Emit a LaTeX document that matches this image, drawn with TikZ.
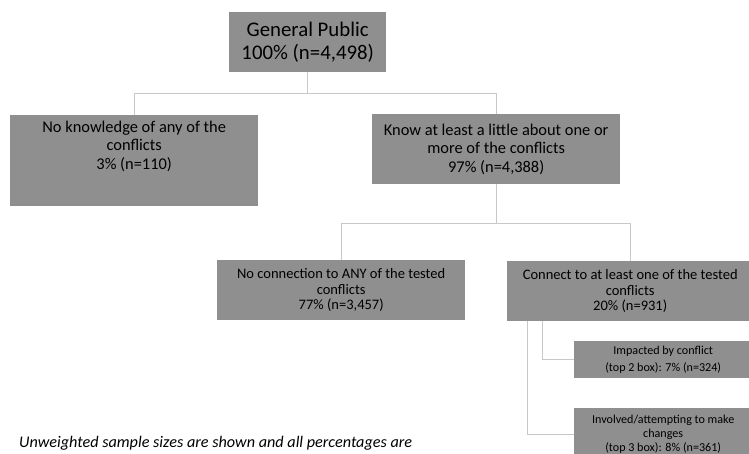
\documentclass[tikz,border=0pt]{standalone}
\usepackage{fontspec}
\setmainfont{Carlito}
\definecolor{boxgray}{RGB}{143,143,143}
\definecolor{linegray}{RGB}{200,200,200}

\begin{document}
\begin{tikzpicture}[x=1pt, y=-1pt,
  every node/.style = {shape=rectangle, fill=boxgray, inner sep=0pt,
    align=center, anchor=north west, text=black},
  big/.style = {font=\fontsize{20.8}{23}\selectfont},
  mid/.style = {font=\fontsize{16.4}{18.3}\selectfont},
  lower/.style = {font=\fontsize{14.5}{15.6}\selectfont},
  small/.style = {font=\fontsize{12.1}{14}\selectfont},
  link/.style = {draw=linegray, line width=0.9pt}]

  \useasboundingbox (0,0) rectangle (749,454);
  \clip (0,0) rectangle (749,454);

  \node[big, minimum width=157, minimum height=60] (public) at (229,12)
    {General Public\\100\% (n=4,498)};

  \node[mid, minimum width=248, minimum height=91,
    label={[mid, fill=none, anchor=north, yshift=-6pt]north:{No knowledge of any of the\\conflicts\\3\% (n=110)}}]
    (noknow) at (10,115) {};
  \node[mid, minimum width=248, minimum height=70] (know) at (372,114)
    {Know at least a little about one or\\more of the conflicts\\97\% (n=4,388)};

  \node[lower, minimum width=248, minimum height=60] (noconn) at (217,260)
    {No connection to ANY of the tested\\conflicts\\77\% (n=3,457)};
  \node[lower, minimum width=246, minimum height=60] (conn) at (507,261)
    {Connect to at least one of the tested\\conflicts\\20\% (n=931)};

  \node[small, minimum width=178, minimum height=37] (impact) at (574,341)
    {Impacted by conflict\\[3pt](top 2 box): 7\% (n=324)};
  \node[small, minimum width=178, minimum height=52] (involve) at (574,408)
    {Involved/attempting to make\\changes\\(top 3 box): 8\% (n=361)};

  \draw[link] (public.south) -- ++(0,21) -| (noknow.north);
  \draw[link] (public.south) -- ++(0,21) -| (know.north);
  \draw[link] (know.south) -- ++(0,39) -| (noconn.north);
  \draw[link] (know.south) -- ++(0,39) -| (conn.north);
  \draw[link] ([xshift=35pt]conn.south west) |- (impact.west);
  \draw[link] ([xshift=20pt]conn.south west) |- (involve.west);

  \node[fill=none, anchor=base west, font=\itshape\fontsize{16.2}{19}\selectfont]
    (note) at (19,447) {Unweighted sample sizes are shown and all percentages are};
\end{tikzpicture}
\end{document}
